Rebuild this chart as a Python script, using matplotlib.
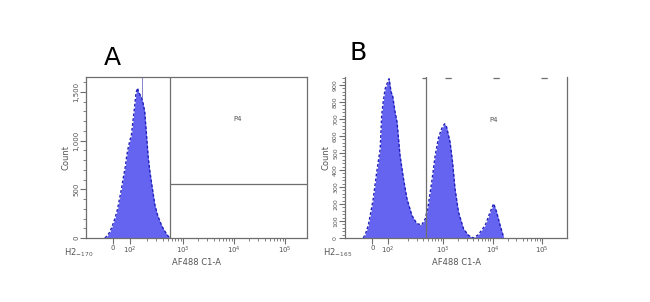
import numpy as np
import matplotlib
matplotlib.use("Agg")
import matplotlib.pyplot as plt

# x positions are in "decade" units of the biexponential display (3 = 10^3)
a_x = [1.47, 1.52, 1.57, 1.62, 1.67, 1.72, 1.76, 1.80, 1.83, 1.87, 1.90, 1.93, 1.96, 1.99,
       2.02, 2.05, 2.08, 2.11, 2.13, 2.16, 2.19, 2.22, 2.25, 2.28, 2.32, 2.35, 2.39, 2.45,
       2.50, 2.55, 2.60, 2.65, 2.70, 2.75]
a_count = [0, 25, 65, 130, 205, 300, 411, 520, 616, 730, 850, 935, 1000, 1058,
           1200, 1335, 1490, 1540, 1500, 1470, 1440, 1380, 1300, 1095, 822, 690, 545, 339,
           240, 168, 110, 65, 25, 0]

b_x = [1.39, 1.44, 1.49, 1.54, 1.59, 1.66, 1.73, 1.76, 1.79, 1.83, 1.88, 1.91, 1.95, 1.98,
       2.03, 2.07, 2.10, 2.13, 2.20, 2.27, 2.37, 2.47, 2.57, 2.64, 2.70, 2.77, 2.84, 2.91,
       2.97, 3.03, 3.07, 3.14, 3.19, 3.24, 3.31, 3.41, 3.51, 3.61, 3.71, 3.85, 3.95, 4.02,
       4.08, 4.15, 4.22]
b_count = [0, 30, 75, 150, 231, 388, 525, 721, 800, 878, 917, 937, 858, 838,
           741, 682, 584, 486, 349, 231, 133, 84, 78, 113, 192, 329, 486, 594,
           643, 672, 653, 564, 447, 290, 153, 55, 16, 0, 19, 75, 153, 202,
           153, 75, 6]

x_tick_pos_a = [1.63, 1.96, 3.0, 4.0, 5.0]
x_tick_pos_b = [1.57, 1.89, 3.0, 4.0, 5.0]
x_tick_labels = ["0", "$10^2$", "$10^3$", "$10^4$", "$10^5$"]

a_yticks = [0, 500, 1000, 1500]
a_ylabels = ["0", "500", "1,000", "1,500"]
b_yticks = [0, 100, 200, 300, 400, 500, 600, 700, 800, 900]
b_ylabels = ["0", "100", "200", "300", "400", "500", "600", "700", "800", "900"]

gate_a_x = 2.745
gate_a_y = 555
gate_b_x = 2.66

fill_col = "#6464f0"
edge_col = "#2020b8"
line_col = "#6e6e6e"
txt_col = "#555555"

fig = plt.figure(figsize=(6.5, 3.02), dpi=100)
ax_a = fig.add_axes([0.1323, 0.2119, 0.34, 0.533])
ax_b = fig.add_axes([0.5308, 0.2119, 0.3415, 0.533])


def minor_positions():
    pos = []
    for n in range(2, 5):
        for k in range(2, 10):
            pos.append(n + np.log10(k))
    return pos


def style_axis(ax, tick_pos, xlim):
    ax.set_xlim(*xlim)
    ax.set_xticks(tick_pos)
    ax.set_xticklabels(x_tick_labels, fontsize=5, color=txt_col)
    ax.set_xticks(minor_positions(), minor=True)
    ax.tick_params(axis="both", which="major", length=4, width=0.8, color=line_col, pad=1)
    ax.tick_params(axis="both", which="minor", length=2, width=0.6, color=line_col)
    for s in ax.spines.values():
        s.set_color(line_col)
        s.set_linewidth(0.9)
    ax.set_xlabel("AF488 C1-A", fontsize=6, color=txt_col, labelpad=1)
    ax.set_ylabel("Count", fontsize=6, color=txt_col, labelpad=2)


# panel A
ax_a.fill_between(a_x, a_count, color=fill_col, linewidth=0)
ax_a.plot(a_x, a_count, color=edge_col, linewidth=1, linestyle=(0, (2, 1.5)))
ax_a.vlines(2.2, 1440, 1660, color="#7070c8", linewidth=0.6)
style_axis(ax_a, x_tick_pos_a, (1.10, 5.43))
ax_a.set_ylim(0, 1653)
ax_a.set_yticks(a_yticks)
ax_a.set_yticklabels(a_ylabels, fontsize=5, color=txt_col, rotation=90, va="center")
ax_a.set_yticks(np.arange(0, 1653, 100), minor=True)
ax_a.axvline(gate_a_x, color=line_col, linewidth=0.9)
ax_a.hlines(gate_a_y, gate_a_x, 5.43, color=line_col, linewidth=0.9)
ax_a.text(4.08, 1222, "P4", fontsize=5, color=txt_col, ha="center", va="center")
ax_a.text(-0.1, -0.09, "H2$_{-170}$", transform=ax_a.transAxes, fontsize=6,
          color=txt_col, ha="left", va="center")
ax_a.text(0.12, 1.12, "A", transform=ax_a.transAxes, fontsize=18, ha="center", va="center")

# panel B
ax_b.fill_between(b_x, b_count, color=fill_col, linewidth=0)
ax_b.plot(b_x, b_count, color=edge_col, linewidth=1, linestyle=(0, (2, 1.5)))
style_axis(ax_b, x_tick_pos_b, (1.02, 5.5))
ax_b.spines["top"].set_visible(False)
ax_b.set_ylim(0, 947)
ax_b.set_yticks(b_yticks)
ax_b.set_yticklabels(b_ylabels, fontsize=4.5, color=txt_col, rotation=90, va="center")
ax_b.set_yticks(np.arange(0, 947, 20), minor=True)
ax_b.axvline(gate_b_x, color=line_col, linewidth=0.9)
ax_b.hlines(944, gate_b_x - 0.08, gate_b_x, color=line_col, linewidth=0.9)
ax_b.hlines(940, 3.04, 5.2, color=line_col, linewidth=0.9,
            linestyles=[(0, (5, 33.4))])
ax_b.text(4.02, 695, "P4", fontsize=5, color=txt_col, ha="center", va="center")
ax_b.text(-0.1, -0.09, "H2$_{-165}$", transform=ax_b.transAxes, fontsize=6,
          color=txt_col, ha="left", va="center")
ax_b.text(0.06, 1.15, "B", transform=ax_b.transAxes, fontsize=18, ha="center", va="center")

fig.savefig("out.png", dpi=100)
